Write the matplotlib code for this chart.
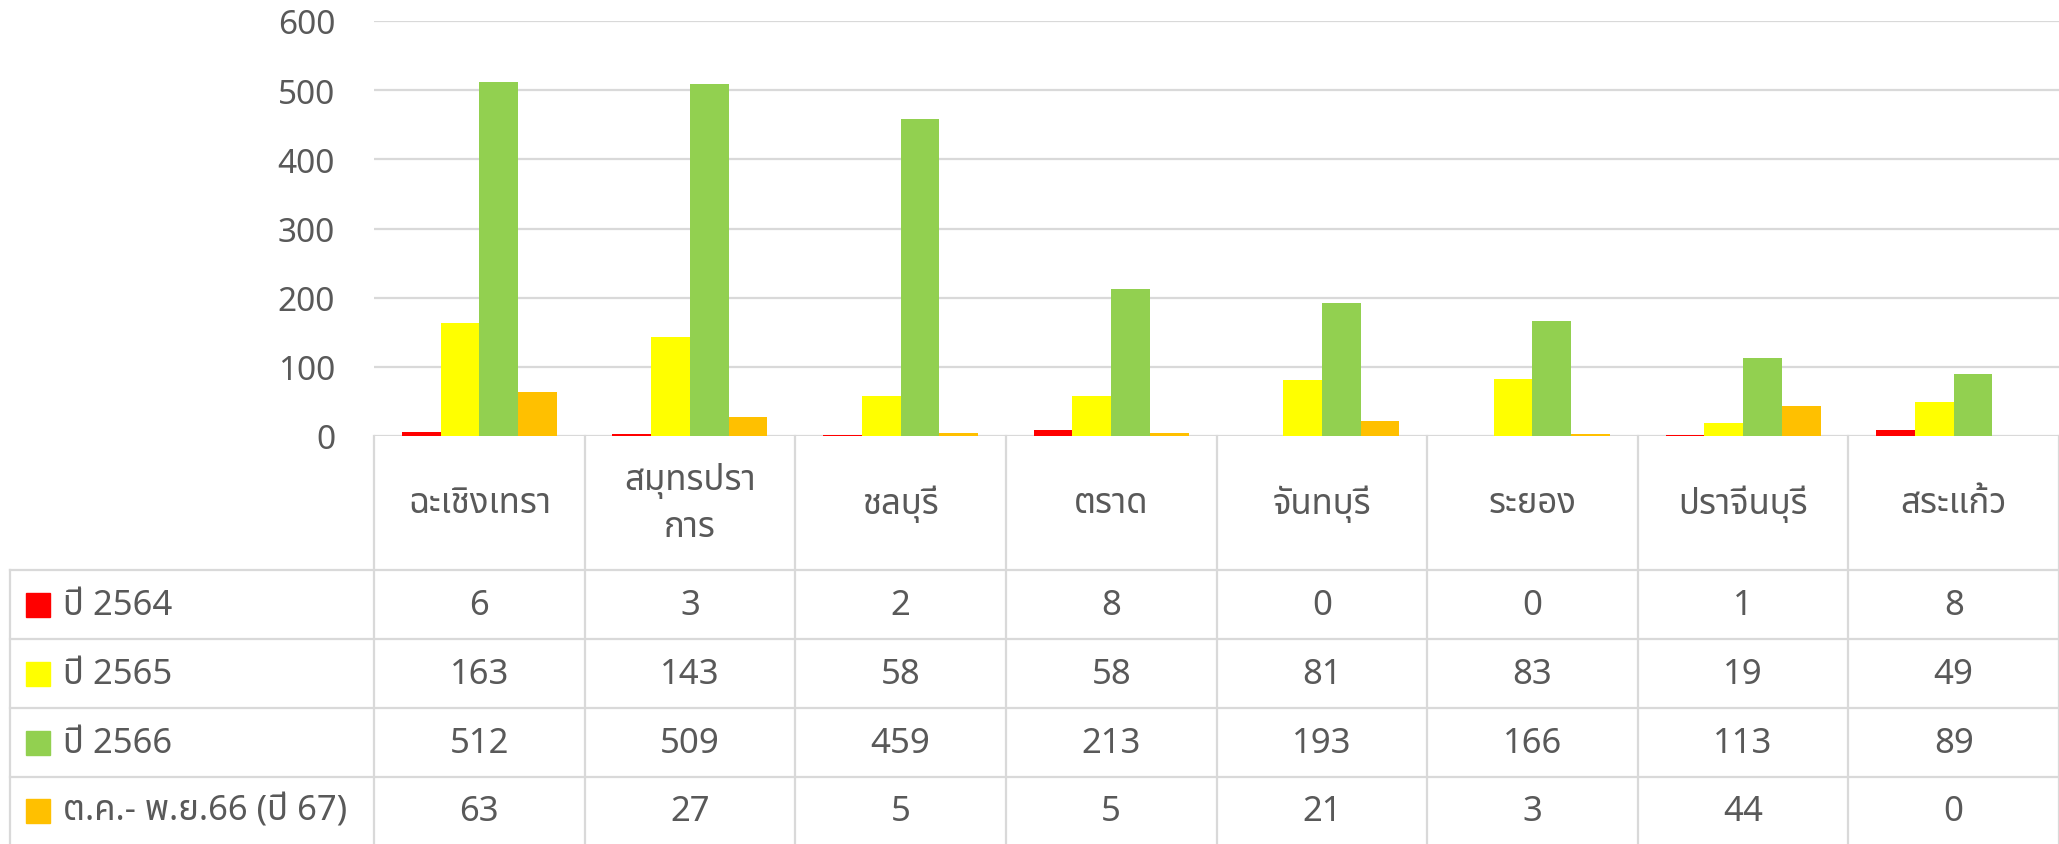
import matplotlib
matplotlib.use("Agg")
import matplotlib.pyplot as plt
import numpy as np

# Thai font first, DejaVu as the fallback for anything it lacks
plt.rcParams['font.family'] = ['Noto Sans Thai', 'Sarabun', 'IBM Plex Sans Thai Looped', 'DejaVu Sans']

provinces = ["ฉะเชิงเทรา", "สมุทรปรา\nการ", "ชลบุรี", "ตราด", "จันทบุรี", "ระยอง", "ปราจีนบุรี", "สระแก้ว"]
series_names = ["ปี 2564", "ปี 2565", "ปี 2566", "ต.ค.- พ.ย.66 (ปี 67)"]
y2564 = [6, 3, 2, 8, 0, 0, 1, 8]
y2565 = [163, 143, 58, 58, 81, 83, 19, 49]
y2566 = [512, 509, 459, 213, 193, 166, 113, 89]
y2567 = [63, 27, 5, 5, 21, 3, 44, 0]
colors = ["#FF0000", "#FFFF00", "#92D050", "#FFC000"]
yticks = [0, 100, 200, 300, 400, 500, 600]

series = [y2564, y2565, y2566, y2567]
txt = "#595959"
grid = "#D9D9D9"
W, H = 2059, 845
fs = 25

fig = plt.figure(figsize=(W / 100, H / 100), dpi=100)

# chart part
ax = fig.add_axes([374 / W, (H - 437) / H, (W - 374) / W, 415 / H])
x = np.arange(len(provinces))
bw = 0.184
for i, vals in enumerate(series):
    ax.bar(x + (i - 1.5) * bw, vals, width=bw, color=colors[i], zorder=3)
ax.set_xlim(-0.5, len(provinces) - 0.5)
ax.set_ylim(0, 600)
ax.set_yticks(yticks)
ax.set_xticks([])
ax.tick_params(axis='y', length=0, pad=28, labelsize=24, labelcolor=txt)
ax.grid(axis='y', color=grid, linewidth=1.6, zorder=0)
for s in ax.spines.values():
    s.set_visible(False)

# data table under the chart
tb = fig.add_axes([374 / W, 0, (W - 374) / W, (H - 437) / H])
tb.set_xlim(-0.5, len(provinces) - 0.5)
tb.set_ylim(H, 437)
tb.axis('off')
unit = (W - 374) / len(provinces)
xl = -0.5 - (374 - 10) / unit
row_lines = [571, 640, 709, 778]
row_mid = [606, 675, 744, 812]

for k in range(len(provinces) + 1):
    tb.plot([k - 0.5, k - 0.5], [437, H], color=grid, lw=1.6, clip_on=False)
tb.plot([xl, xl], [571, H], color=grid, lw=1.6, clip_on=False)
for yl in row_lines:
    tb.plot([xl, len(provinces) - 0.5], [yl, yl], color=grid, lw=1.6, clip_on=False)

for j, name in enumerate(provinces):
    tb.text(j, 504, name, ha='center', va='center', fontsize=fs, color=txt,
            linespacing=1.45)

for i, vals in enumerate(series):
    ym = row_mid[i]
    tb.add_patch(plt.Rectangle((-0.5 - (374 - 26) / unit, ym - 12), 24 / unit, 24,
                               color=colors[i], clip_on=False))
    tb.text(-0.5 - (374 - 63) / unit, ym, series_names[i], ha='left', va='center',
            fontsize=fs, color=txt, clip_on=False)
    for j, v in enumerate(vals):
        tb.text(j, ym, str(v), ha='center', va='center', fontsize=fs, color=txt)

fig.savefig("out.png", dpi=100)
